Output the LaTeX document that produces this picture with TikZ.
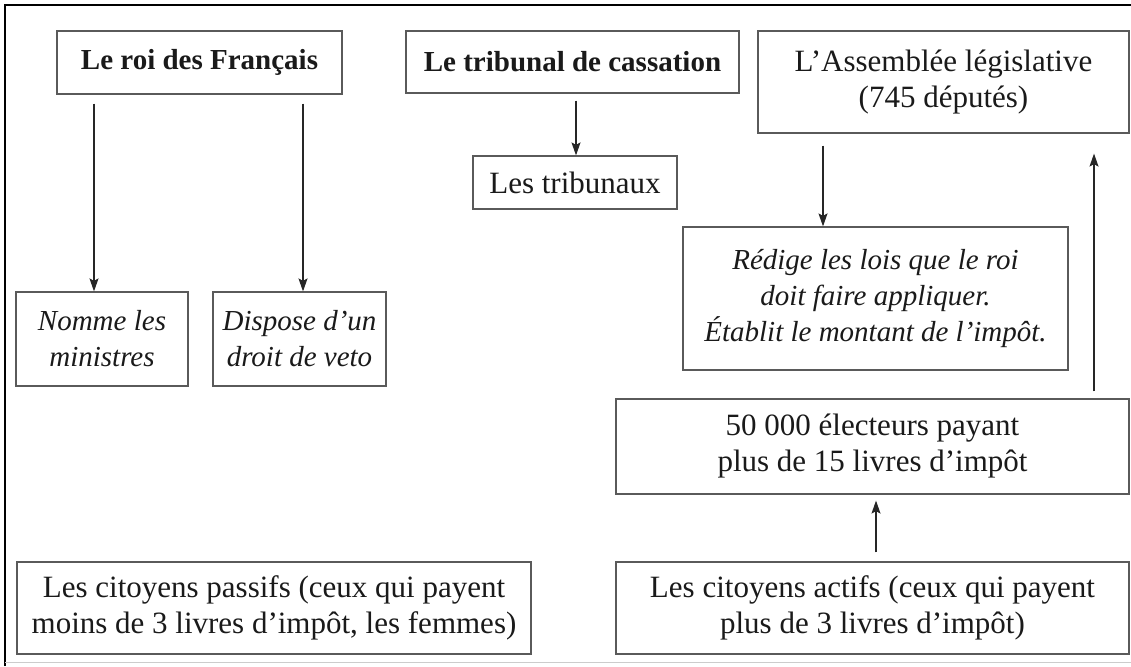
\documentclass[tikz,border=0pt]{standalone}
\usepackage{fontspec}
\setmainfont{Liberation Serif}
\usetikzlibrary{arrows.meta}
\definecolor{boxgray}{HTML}{5A5A5A}
\definecolor{inkc}{HTML}{1A1A1A}
\begin{document}
\begin{tikzpicture}[x=1pt,y=-1pt,
  box/.style={draw=boxgray, line width=1.2pt, inner sep=0pt, align=center,
    text=inkc, font=\fontsize{31}{36}\selectfont},
  hdbox/.style={box, font=\fontsize{29}{36}\selectfont\bfseries},
  itbox/.style={box, font=\fontsize{29}{36}\selectfont\itshape},
  arr/.style={-{Stealth[length=13pt,width=9pt,inset=2.5pt]}, line width=1.1pt, draw=black!85}]
\useasboundingbox (0,0) rectangle (1131,666);
\fill[white] (0,0) rectangle (1131,666);
% frame
\draw[line width=2pt, black] (5,666) -- (5,5) -- (1131,5);
\draw[line width=1pt, black!20] (5,662) -- (1131,662);
% nodes
\node[hdbox, minimum width=285pt, minimum height=63pt] (roi) at (199.5,62.5) {Le roi des Français};
\node[hdbox, minimum width=333pt, minimum height=62pt] (trib) at (572.5,62) {Le tribunal de cassation};
\node[box, minimum width=371pt, minimum height=102pt] (assem) at (943.5,82) {L’Assemblée législative\\(745 députés)};
\node[box, minimum width=204pt, minimum height=53pt] (tribx) at (575,182.5) {Les tribunaux};
\node[itbox, minimum width=172pt, minimum height=94pt] (nomme) at (102,339) {Nomme les\\ministres};
\node[itbox, minimum width=173pt, minimum height=94pt] (dispose) at (299.5,339) {Dispose d’un\\droit de veto};
\node[itbox, minimum width=385pt, minimum height=143pt] (redige) at (875.5,298.5) {Rédige les lois que le roi\\doit faire appliquer.\\Établit le montant de l’impôt.};
\node[box, minimum width=513pt, minimum height=95pt] (elect) at (872.5,446.5) {50 000 électeurs payant\\plus de 15 livres d’impôt};
\node[box, minimum width=513pt, minimum height=92pt] (actifs) at (872.5,608) {Les citoyens actifs (ceux qui payent\\plus de 3 livres d’impôt)};
\node[box, minimum width=514pt, minimum height=92pt] (passifs) at (274,608) {Les citoyens passifs (ceux qui payent\\moins de 3 livres d’impôt, les femmes)};
% connectors
\draw[arr, shorten <=9pt] ([xshift=-8pt]nomme.north |- roi.south) -- ([xshift=-8pt]nomme.north);
\draw[arr, shorten <=9pt] ([xshift=3.5pt]dispose.north |- roi.south) -- ([xshift=3.5pt]dispose.north);
\draw[arr, shorten <=7pt] ([xshift=1pt]tribx.north |- trib.south) -- ([xshift=1pt]tribx.north);
\draw[arr, shorten <=12pt] ([xshift=-52.5pt]redige.north |- assem.south) -- ([xshift=-52.5pt]redige.north);
\draw[arr, shorten <=7pt, shorten >=20pt] ([xshift=221.5pt]elect.north) -- ([xshift=221.5pt]elect.north |- assem.south);
\draw[arr, shorten <=9pt, shorten >=6pt] ([xshift=3.5pt]actifs.north) -- ([xshift=3.5pt]elect.south);
\end{tikzpicture}
\end{document}
